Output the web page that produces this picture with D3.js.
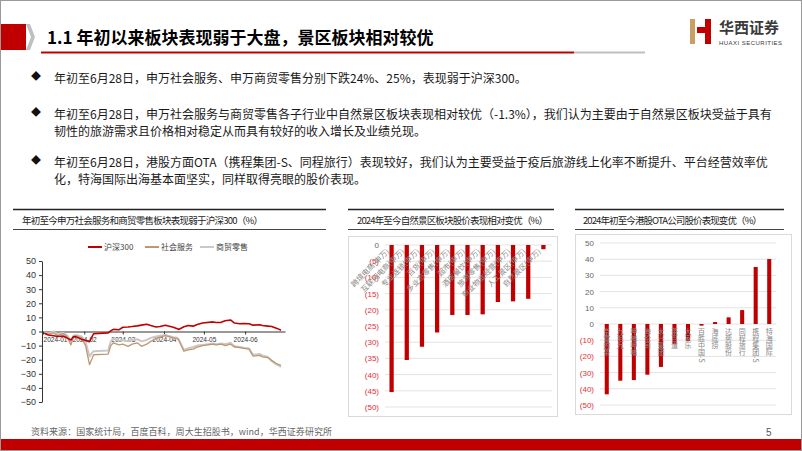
<!DOCTYPE html>
<html lang="zh">
<head>
<meta charset="utf-8">
<title>1.1 年初以来板块表现弱于大盘</title>
<script src="https://cdn.jsdelivr.net/npm/d3@7"></script>
<style>
  body { margin: 0; background: #fff; }
  svg { display: block; font-family: "Noto Sans CJK SC", "Noto Sans", sans-serif; }
  .num { font-family: "Liberation Sans", Arial, sans-serif; }
</style>
</head>
<body>
<script>
// ---- 数据 ----
var lineDates = ["2024-01-02","2024-01-05","2024-01-09","2024-01-12","2024-01-16","2024-01-19","2024-01-22","2024-01-24","2024-01-26","2024-01-30",
  "2024-02-02","2024-02-05","2024-02-07","2024-02-08","2024-02-19","2024-02-21","2024-02-23","2024-02-27","2024-03-01","2024-03-05",
  "2024-03-08","2024-03-12","2024-03-15","2024-03-19","2024-03-22","2024-03-26","2024-03-29","2024-04-02","2024-04-08","2024-04-11",
  "2024-04-12","2024-04-16","2024-04-19","2024-04-23","2024-04-26","2024-04-30","2024-05-08","2024-05-10","2024-05-14","2024-05-17",
  "2024-05-21","2024-05-24","2024-05-28","2024-05-31","2024-06-04","2024-06-07","2024-06-12","2024-06-14","2024-06-18","2024-06-21",
  "2024-06-25","2024-06-28"];
var hs300 = [-1.3,-2.5,-3.0,-3.5,-3.2,-4.5,-6.0,-3.5,-3.8,-5.5,
  -6.3,-7.2,-3.5,-1.6,-1.0,0.5,1.5,1.2,3.0,3.2,
  3.5,4.0,4.5,5.2,4.2,3.2,3.6,4.5,3.0,2.0,
  1.4,3.4,4.2,3.8,5.0,6.0,6.8,6.4,6.5,7.6,
  8.2,6.0,5.5,5.6,5.5,4.5,4.8,4.2,3.8,3.5,
  2.2,0.9];
var sheHuiFuWu = [-1.0,-2.0,-1.0,-3.0,-1.5,-3.5,-9.5,-4.0,-3.0,-4.5,
  -10.0,-23.5,-19.0,-16.5,-16.0,-10.0,-8.0,-9.5,-9.0,-10.5,
  -9.0,-8.0,-10.5,-9.0,-7.0,-5.0,-4.0,-3.0,-4.5,-5.0,
  -6.0,-14.0,-13.0,-12.5,-11.0,-10.0,-9.0,-9.5,-9.0,-10.0,
  -9.0,-11.0,-11.5,-12.0,-12.5,-17.5,-17.0,-18.0,-18.5,-20.5,
  -23.0,-24.0];
var shangMaoLingShou = [-0.5,-1.5,0.0,-2.0,-1.0,-2.5,-7.0,-3.0,-2.5,-3.5,
  -7.5,-17.7,-15.0,-14.0,-13.5,-7.0,-5.0,-6.5,-6.0,-7.0,
  -6.0,-5.5,-7.0,-6.0,-4.5,-3.5,-3.0,-2.5,-4.0,-4.5,
  -5.5,-13.0,-12.0,-11.0,-10.0,-9.5,-8.5,-9.0,-8.5,-9.0,
  -8.0,-10.5,-11.0,-11.5,-12.0,-16.5,-16.0,-17.0,-18.0,-21.0,
  -23.5,-25.0];
var lineTicksY = [50,40,30,20,10,0,-10,-20,-30,-40,-50];
var lineTicksX = ["2024-01-01","2024-02-01","2024-03-01","2024-04-01","2024-05-01","2024-06-01"];

var scenicCats = ["跨境电商(申万)","互联网电商(申万)","专业连锁(申万)","百货(申万)","多业态零售(申万)","超市(申万)","酒店餐饮(申万)","旅游零售(申万)","商业物业经营(申万)","人工景区(申万)","自然景区(申万)"];
var scenicVals = [-45.4,-35.5,-31.4,-27.0,-21.6,-21.6,-21.4,-17.6,-17.4,-16.6,-1.3];
var scenicTicks = [0,-5,-10,-15,-20,-25,-30,-35,-40,-45,-50];

var otaCats = ["奈雪的茶","九毛九","呷哺呷哺","海伦司","太兴集团","茶百道","大家乐","百胜中国-S","海底捞","达势股份","同程旅行","携程集团-S","特海国际"];
var otaVals = [-43.4,-35.0,-34.6,-31.3,-26.5,-12.5,-10.5,-1.0,1.2,4.1,8.6,35.2,40.1];
var otaTicks = [50,40,30,20,10,0,-10,-20,-30,-40,-50];

var bullets = [
  ["年初至6月28日，申万社会服务、申万商贸零售分别下跌24%、25%，表现弱于沪深300。"],
  ["年初至6月28日，申万社会服务与商贸零售各子行业中自然景区板块表现相对较优（-1.3%），我们认为主要由于自然景区板块受益于具有",
   "韧性的旅游需求且价格相对稳定从而具有较好的收入增长及业绩兑现。"],
  ["年初至6月28日，港股方面OTA（携程集团-S、同程旅行）表现较好，我们认为主要受益于疫后旅游线上化率不断提升、平台经营效率优",
   "化，特海国际出海基本面坚实，同样取得亮眼的股价表现。"]
];

var RED = "#c00000";
var w = 802, h = 451;

var svg = d3.select("body").append("svg")
    .attr("width", w)
    .attr("height", h);

svg.append("rect").attr("width", w).attr("height", h).attr("fill", "#fff");

// ---- 页眉 ----
svg.append("rect").attr("x", 0).attr("y", 24).attr("width", 26).attr("height", 26).attr("fill", RED);
svg.append("polygon").attr("points", "26,24 30,24 35,37 30,50 26,50 31,37").attr("fill", "#bfbfbf");
svg.append("text").attr("x", 47).attr("y", 44)
    .attr("font-size", 17).attr("font-weight", "bold").attr("fill", "#000")
    .text("1.1 年初以来板块表现弱于大盘，景区板块相对较优");
svg.append("line").attr("x1", 41).attr("x2", 574).attr("y1", 52.5).attr("y2", 52.5)
    .attr("stroke", RED).attr("stroke-width", 2);
svg.append("line").attr("x1", 574).attr("x2", 645).attr("y1", 52.5).attr("y2", 52.5)
    .attr("stroke", "#bfbfbf").attr("stroke-width", 2);

// logo
svg.append("rect").attr("x", 690).attr("y", 19).attr("width", 5).attr("height", 25).attr("fill", "#c9a063");
svg.append("polygon").attr("points", "697,27 705,27 705,19 711,19 711,44 705,44 705,33 697,33").attr("fill", RED);
svg.append("text").attr("x", 719).attr("y", 33).attr("font-size", 15).attr("fill", "#3a3a3a")
    .attr("font-weight", "bold").text("华西证券");
svg.append("text").attr("class", "num").attr("x", 719).attr("y", 44.5).attr("font-size", 6).attr("fill", "#3a3a3a")
    .attr("textLength", 63).text("HUAXI SECURITIES");

// ---- 要点 ----
var lineY = [[79], [115, 132], [163, 180]];
bullets.forEach(function(b, i) {
  svg.append("text").attr("x", 31).attr("y", lineY[i][0] + 0.5).attr("font-size", 10).attr("fill", "#111").text("◆");
  b.forEach(function(t, j) {
    svg.append("text").attr("x", 54).attr("y", lineY[i][j] + 4)
      .attr("font-size", 12).attr("fill", "#1a1a1a").text(t);
  });
});

// ---- 图表标题 ----
function chartTitle(x1, x2, tx, tlen, txt) {
  svg.append("line").attr("x1", x1).attr("x2", x2).attr("y1", 209.5).attr("y2", 209.5).attr("stroke", "#222").attr("stroke-width", 1.5);
  svg.append("line").attr("x1", x1).attr("x2", x2).attr("y1", 229.5).attr("y2", 229.5).attr("stroke", "#444").attr("stroke-width", 1);
  svg.append("text").attr("x", tx).attr("y", 223.5).attr("font-size", 9.5).attr("fill", "#222")
    .attr("textLength", tlen).text(txt);
}
chartTitle(13, 326, 22, 241, "年初至今申万社会服务和商贸零售板块表现弱于沪深300（%）");
chartTitle(348, 554, 357, 191, "2024年至今自然景区板块股价表现相对变优（%）");
chartTitle(575, 784, 583, 179, "2024年初至今港股OTA公司股价表现变优（%）");

// ---- 左图：折线 ----
var parse = d3.timeParse("%Y-%m-%d");
var xL = d3.scaleTime().domain([parse("2024-01-01"), parse("2024-07-01")]).range([43, 285]);
var yL = d3.scaleLinear().domain([-50, 50]).range([402, 261]);

var gL = svg.append("g");
var yAxisL = gL.append("g").attr("transform", "translate(42,0)")
    .call(d3.axisLeft(yL).tickValues(lineTicksY).tickSize(3).tickSizeOuter(0).tickPadding(3));
yAxisL.selectAll("text").attr("class", "num").attr("font-size", 9).attr("fill", "#333");
yAxisL.selectAll("line, path").attr("stroke", "#333");

var xAxisL = gL.append("g").attr("transform", "translate(0," + yL(0) + ")")
    .call(d3.axisBottom(xL).tickValues(lineTicksX.map(parse)).tickFormat(d3.timeFormat("%Y-%m"))
      .tickSize(3).tickSizeOuter(0).tickPadding(2));
xAxisL.selectAll("text").attr("class", "num").attr("font-size", 8).attr("fill", "#333")
    .attr("textLength", 24).attr("lengthAdjust", "spacingAndGlyphs");
// 首个标签靠左对齐，避免与纵轴标签重叠
xAxisL.selectAll(".tick text").filter(function(d, i) { return i === 0; })
    .attr("text-anchor", "start").attr("x", 0);
xAxisL.selectAll("line, path").attr("stroke", "#333");

var seriesL = [
  {name: "商贸零售", vals: shangMaoLingShou, color: "#c9c9c9", width: 2},
  {name: "社会服务", vals: sheHuiFuWu, color: "#c0976e", width: 1.3},
  {name: "沪深300", vals: hs300, color: RED, width: 1.6}
];
var lineGen = d3.line().x(function(d) { return xL(d[0]); }).y(function(d) { return yL(d[1]); });
seriesL.forEach(function(s) {
  var pts = lineDates.map(function(d, i) { return [parse(d), s.vals[i]]; });
  gL.append("path").attr("d", lineGen(pts)).attr("fill", "none")
    .attr("stroke", s.color).attr("stroke-width", s.width).attr("stroke-linejoin", "round");
});

// 图例
var legendL = [
  {name: "沪深300", color: RED, x: 88},
  {name: "社会服务", color: "#c0976e", x: 145},
  {name: "商贸零售", color: "#c9c9c9", x: 200}
];
legendL.forEach(function(l) {
  gL.append("line").attr("x1", l.x).attr("x2", l.x + 14).attr("y1", 247).attr("y2", 247)
    .attr("stroke", l.color).attr("stroke-width", 2);
  gL.append("text").attr("x", l.x + 16).attr("y", 250).attr("font-size", 8).attr("fill", "#444").text(l.name);
});

// ---- 中图：自然景区 ----
var gM = svg.append("g");
gM.append("rect").attr("x", 348.5).attr("y", 236.5).attr("width", 209).attr("height", 180)
  .attr("fill", "none").attr("stroke", "#d9d9d9");
var yM = d3.scaleLinear().domain([-50, 0]).range([407, 245]);
var xM = d3.scaleBand().domain(scenicCats).range([384, 551]).paddingInner(0.72).paddingOuter(0.36);

scenicTicks.forEach(function(t) {
  gM.append("line").attr("x1", 385).attr("x2", 552).attr("y1", yM(t)).attr("y2", yM(t))
    .attr("stroke", "#e3e3e3").attr("stroke-width", 1);
  gM.append("text").attr("class", "num").attr("x", 379).attr("y", yM(t) + 3).attr("text-anchor", "end")
    .attr("font-size", 8).attr("fill", t < 0 ? "#e0303c" : "#666")
    .text(t < 0 ? "(" + (-t) + ")" : t);
});
gM.selectAll(".bar").data(scenicVals).enter().append("rect")
  .attr("x", function(d, i) { return xM(scenicCats[i]); })
  .attr("width", xM.bandwidth())
  .attr("y", function(d) { return yM(Math.max(0, d)); })
  .attr("height", function(d) { return Math.abs(yM(d) - yM(0)); })
  .attr("fill", RED);
scenicCats.forEach(function(c) {
  var cx = xM(c) + xM.bandwidth() / 2;
  gM.append("text").attr("transform", "translate(" + (cx - 2) + ",252) rotate(-45)")
    .attr("text-anchor", "end").attr("font-size", 7.5).attr("fill", "#888").text(c);
});

// ---- 右图：港股 ----
var gR = svg.append("g");
gR.append("rect").attr("x", 575.5).attr("y", 234.5).attr("width", 216).attr("height", 180)
  .attr("fill", "none").attr("stroke", "#d9d9d9");
var yR = d3.scaleLinear().domain([-50, 50]).range([405, 243]);
var xR = d3.scaleBand().domain(otaCats).range([600, 776]).paddingInner(0.7).paddingOuter(0.35);

otaTicks.forEach(function(t) {
  gR.append("line").attr("x1", 600).attr("x2", 776).attr("y1", yR(t)).attr("y2", yR(t))
    .attr("stroke", "#e3e3e3").attr("stroke-width", 1);
  gR.append("text").attr("class", "num").attr("x", 594).attr("y", yR(t) + 3).attr("text-anchor", "end")
    .attr("font-size", 8).attr("fill", t < 0 ? "#e0303c" : "#666")
    .text(t < 0 ? "(" + (-t) + ")" : t);
});
gR.selectAll(".bar").data(otaVals).enter().append("rect")
  .attr("x", function(d, i) { return xR(otaCats[i]); })
  .attr("width", xR.bandwidth())
  .attr("y", function(d) { return yR(Math.max(0, d)); })
  .attr("height", function(d) { return Math.abs(yR(d) - yR(0)); })
  .attr("fill", RED);
otaCats.forEach(function(c) {
  var cx = xR(c) + xR.bandwidth() / 2;
  gR.append("text").attr("x", cx).attr("y", yR(0) + 4)
    .style("writing-mode", "vertical-rl")
    .attr("font-size", 7).attr("fill", "#888").text(c);
});

// ---- 页脚 ----
svg.append("text").attr("x", 31).attr("y", 435).attr("font-size", 9).attr("fill", "#666")
  .attr("textLength", 301).text("资料来源：国家统计局，百度百科，周大生招股书，wind，华西证券研究所");
svg.append("text").attr("class", "num").attr("x", 766).attr("y", 436).attr("font-size", 10).attr("fill", "#555").text("5");
svg.append("rect").attr("x", 0).attr("y", 439).attr("width", w).attr("height", 12).attr("fill", RED);
svg.append("rect").attr("x", 0.5).attr("y", 0.5).attr("width", w - 1).attr("height", h - 1)
  .attr("fill", "none").attr("stroke", "#9a9a9a");
</script>
</body>
</html>
